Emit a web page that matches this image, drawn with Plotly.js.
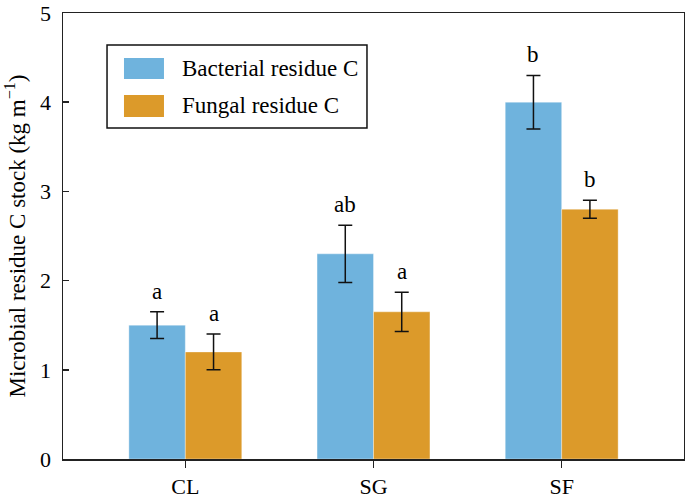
<!DOCTYPE html>
<html>
<head>
<meta charset="utf-8">
<script src="https://cdn.plot.ly/plotly-3.0.1.min.js"></script>
<style>html,body{margin:0;padding:0;background:#fff;}#chart{width:685px;height:503px;}</style>
</head>
<body>
<div id="chart"></div>
<script>
const categories = ["CL", "SG", "SF"];
const bacterial = [1.5, 2.3, 4.0];
const bacterialErr = [0.15, 0.32, 0.30];
const fungal = [1.2, 1.65, 2.8];
const fungalErr = [0.2, 0.22, 0.1];
const bacterialLetters = ["a", "ab", "b"];
const fungalLetters = ["a", "a", "b"];
const seriesNames = ["Bacterial residue C", "Fungal residue C"];
const yTicks = [0, 1, 2, 3, 4, 5];

const blue = "#6fb3dd";
const orange = "#dc9a2a";
const font = "Liberation Serif";

const traces = [
  {type: "bar", name: seriesNames[0], x: categories, y: bacterial,
   marker: {color: blue, line: {color: "rgba(255,255,255,0.35)", width: 1}},
   error_y: {type: "data", array: bacterialErr, visible: true, color: "#111", thickness: 1.5, width: 7},
   showlegend: false},
  {type: "bar", name: seriesNames[1], x: categories, y: fungal,
   marker: {color: orange, line: {color: "rgba(255,255,255,0.35)", width: 1}},
   error_y: {type: "data", array: fungalErr, visible: true, color: "#111", thickness: 1.5, width: 7},
   showlegend: false}
];

const annotations = [];
categories.forEach((c, i) => {
  annotations.push({x: i - 0.15, y: bacterial[i] + bacterialErr[i], xref: "x", yref: "y",
    text: bacterialLetters[i], showarrow: false, yanchor: "bottom", yshift: 6,
    font: {family: font, size: 23, color: "#000"}});
  annotations.push({x: i + 0.15, y: fungal[i] + fungalErr[i], xref: "x", yref: "y",
    text: fungalLetters[i], showarrow: false, yanchor: "bottom", yshift: 6,
    font: {family: font, size: 23, color: "#000"}});
});
// legend text
annotations.push({x: 0.1884, y: 0.876, xref: "paper", yref: "paper", text: seriesNames[0],
  showarrow: false, xanchor: "left", yanchor: "middle", font: {family: font, size: 23, color: "#000"}});
annotations.push({x: 0.1884, y: 0.792, xref: "paper", yref: "paper", text: seriesNames[1],
  showarrow: false, xanchor: "left", yanchor: "middle", font: {family: font, size: 23, color: "#000"}});

const shapes = [
  {type: "rect", xref: "paper", yref: "paper", x0: 0.0709, x1: 0.4895, y0: 0.742, y1: 0.928,
   line: {color: "#111", width: 1.5}, fillcolor: "rgba(0,0,0,0)"},
  {type: "rect", xref: "paper", yref: "paper", x0: 0.0982, x1: 0.1626, y0: 0.852, y1: 0.899,
   line: {width: 0}, fillcolor: blue},
  {type: "rect", xref: "paper", yref: "paper", x0: 0.0982, x1: 0.1626, y0: 0.767, y1: 0.816,
   line: {width: 0}, fillcolor: orange}
];

const layout = {
  width: 685, height: 503,
  margin: {l: 63, r: 1, t: 13, b: 44},
  paper_bgcolor: "#fff", plot_bgcolor: "#fff",
  barmode: "group", bargap: 0.4, bargroupgap: 0,
  font: {family: font, size: 22, color: "#000"},
  xaxis: {type: "category", range: [-0.65, 2.65], showgrid: false, zeroline: false,
    showline: true, linecolor: "#222", linewidth: 1.5, mirror: true,
    ticks: "outside", ticklen: 7, tickwidth: 1.5, tickcolor: "#222",
    tickfont: {family: font, size: 22, color: "#000"}},
  yaxis: {range: [0, 5], tickvals: yTicks, showgrid: false, zeroline: false,
    showline: true, linecolor: "#222", linewidth: 1.5, mirror: true,
    ticks: "inside", ticklen: 6, tickwidth: 1.5, tickcolor: "#222",
    ticklabelstandoff: 6,
    tickfont: {family: font, size: 22, color: "#000"},
    title: {text: "Microbial residue C stock (kg m<sup>−1</sup>)", standoff: 8,
      font: {family: font, size: 23, color: "#000"}}},
  annotations: annotations,
  shapes: shapes
};

Plotly.newPlot("chart", traces, layout, {displayModeBar: false, staticPlot: true});
</script>
</body>
</html>
